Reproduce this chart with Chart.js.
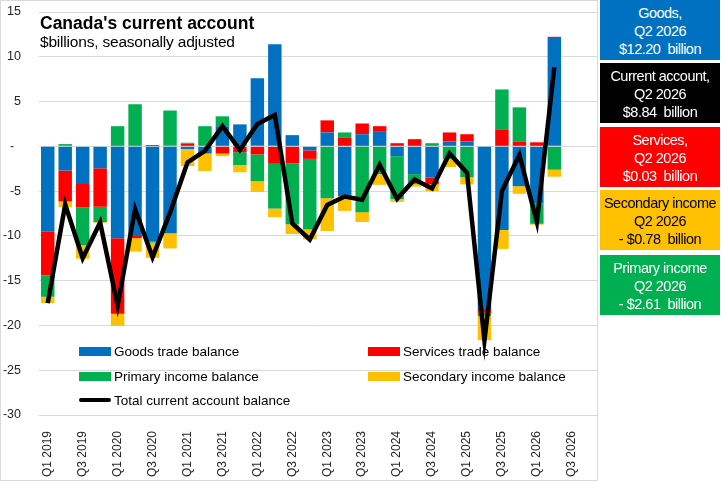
<!DOCTYPE html>
<html>
<head>
<meta charset="utf-8">
<title>Canada's current account</title>
<script src="https://cdn.jsdelivr.net/npm/chart.js@4.4.1/dist/chart.umd.min.js"></script>
<style>
  body { margin: 0; background: #fff; font-family: "Liberation Sans", Arial, sans-serif; }
  #wrap { position: relative; width: 721px; height: 481px; overflow: hidden; }
  #frame { position: absolute; left: 0; top: 0; width: 596px; height: 479px; border: 1px solid #d9d9d9; }
  #chart { position: absolute; left: 0; top: 0; }
  .title { position: absolute; left: 40px; top: 13px; font-weight: bold; font-size: 17.5px; color: #000; }
  .sub { position: absolute; left: 40px; top: 33px; font-size: 15.5px; color: #000; letter-spacing: -0.2px; }
  .box { position: absolute; left: 600px; width: 120px; height: 60px; text-align: center; white-space: nowrap;
         font-size: 14.5px; letter-spacing: -0.5px; line-height: 18px; padding-top: 4px; box-sizing: border-box; }
  .leg { position: absolute; font-size: 13.5px; color: #000; white-space: nowrap; }
  .sw { display: inline-block; width: 32px; height: 9px; margin-right: 3px; vertical-align: 0px; }
</style>
</head>
<body>
<div id="wrap">
  <div id="frame"></div>
  <canvas id="chart" width="721" height="481"></canvas>
  <div class="title">Canada's current account</div>
  <div class="sub">$billions, seasonally adjusted</div>
  <div id="boxes"></div>
  <div id="legend"></div>
</div>
<script>
// quarters, Q1 2019 to Q4 2026 (last two have no data yet)
const quarters = [
  'Q1 2019', 'Q2 2019', 'Q3 2019', 'Q4 2019',
  'Q1 2020', 'Q2 2020', 'Q3 2020', 'Q4 2020',
  'Q1 2021', 'Q2 2021', 'Q3 2021', 'Q4 2021',
  'Q1 2022', 'Q2 2022', 'Q3 2022', 'Q4 2022',
  'Q1 2023', 'Q2 2023', 'Q3 2023', 'Q4 2023',
  'Q1 2024', 'Q2 2024', 'Q3 2024', 'Q4 2024',
  'Q1 2025', 'Q2 2025', 'Q3 2025', 'Q4 2025',
  'Q1 2026', 'Q2 2026', 'Q3 2026', 'Q4 2026'
];

// $ billions
const goods = [-9.5, -2.7, -4.1, -2.45, -10.25, -10.0, -10.6, -9.7, -0.3, -0.8, 2.25, 2.45,
  7.6, 11.4, 1.25, -0.45, 1.55, -5.55, 1.35, 1.7, -1.1, -3.1, -3.5, 0.55,
  0.55, -18.15, -9.35, -4.45, -6.35, 12.2, null, null];
const services = [-4.9, -3.45, -2.7, -4.3, -8.45, -0.25, 0.15, 0.1, 0.3, 0, -0.8, -0.65,
  -0.9, -1.95, -1.9, -0.95, 1.35, 1.0, 1.2, 0.55, 0.35, 0.8, -0.75, 1.0,
  0.8, -0.45, 1.9, 0.5, 0.45, 0.03, null, null];
const primary = [-2.4, 0.25, -4.25, -1.7, 2.25, 4.7, -0.15, 3.9, 0.1, 2.25, 1.1, -1.45,
  -3.0, -5.0, -6.8, -7.9, -5.8, 0.55, -7.35, -3.1, -4.8, -1.1, 0.35, -1.4,
  -3.45, -0.35, 4.45, 3.85, -2.3, -2.61, null, null];
const secondary = [-0.7, -0.65, -1.5, -0.1, -1.35, -1.5, -1.7, -1.7, -1.9, -1.95, -0.3, -0.8,
  -1.2, -0.95, -1.1, -1.1, -3.65, -1.65, -1.1, -1.2, -0.3, -0.3, -0.75, -0.9,
  -0.8, -2.7, -2.1, -0.85, -0.1, -0.78, null, null];
const total = [-17.5, -6.5, -12.5, -8.5, -17.8, -7.0, -12.4, -7.4, -1.8, -0.5, 2.25, -0.4,
  2.5, 3.5, -8.6, -10.4, -6.55, -5.6, -5.95, -2.05, -5.85, -3.7, -4.7, -0.8,
  -2.95, -21.7, -5.0, -0.95, -8.45, 8.84, null, null];

const yTicks = [15, 10, 5, 0, -5, -10, -15, -20, -25, -30];

// callout boxes on the right
const boxTitles = ['Goods,', 'Current account,', 'Services,', 'Secondary income', 'Primary income'];
const boxPeriods = ['Q2 2026', 'Q2 2026', 'Q2 2026', 'Q2 2026', 'Q2 2026'];
const boxValues = ['$12.20\u00a0 billion', '$8.84\u00a0 billion', '$0.03\u00a0 billion', '-\u00a0$0.78\u00a0 billion', '-\u00a0$2.61\u00a0 billion'];

const COLORS = { goods: '#0070C0', services: '#FF0000', primary: '#00B050', secondary: '#FFC000', total: '#000000' };

document.addEventListener('DOMContentLoaded', () => {
  // Boxes
  const boxColors = [COLORS.goods, COLORS.total, COLORS.services, COLORS.secondary, COLORS.primary];
  const boxTops = [0, 63, 127, 190, 255];
  const boxesEl = document.getElementById('boxes');
  boxTitles.forEach((t, i) => {
    const d = document.createElement('div');
    d.className = 'box';
    d.style.top = boxTops[i] + 'px';
    d.style.background = boxColors[i];
    d.style.color = boxColors[i] === COLORS.secondary ? '#000' : '#fff';
    d.innerHTML = t + '<br>' + boxPeriods[i] + '<br>' + boxValues[i];
    boxesEl.appendChild(d);
  });

  const barDefaults = {
    type: 'bar',
    stack: 'ca',
    order: 1,
    barPercentage: 1,
    categoryPercentage: 0.77,
    borderWidth: 0
  };

  const datasets = [
    { ...barDefaults, label: 'Goods trade balance', data: goods, backgroundColor: COLORS.goods },
    { ...barDefaults, label: 'Services trade balance', data: services, backgroundColor: COLORS.services },
    { ...barDefaults, label: 'Primary income balance', data: primary, backgroundColor: COLORS.primary },
    { ...barDefaults, label: 'Secondary income balance', data: secondary, backgroundColor: COLORS.secondary },
    {
      type: 'line',
      label: 'Total current account balance',
      data: total,
      stack: 'total',
      order: 0,
      borderColor: COLORS.total,
      borderWidth: 4.5,
      pointRadius: 0,
      tension: 0,
      spanGaps: false
    }
  ];

  // Legend (placed inside the plot, two columns)
  const legendPos = [[79, 348], [368, 348], [79, 373], [368, 373], [79, 397]];
  const legendEl = document.getElementById('legend');
  datasets.forEach((ds, i) => {
    const d = document.createElement('div');
    d.className = 'leg';
    d.style.left = legendPos[i][0] + 'px';
    d.style.top = (legendPos[i][1] - 4) + 'px';
    const isLine = ds.type === 'line';
    const col = isLine ? ds.borderColor : ds.backgroundColor;
    d.innerHTML = '<span class="sw" style="background:' + col + ';' +
      (isLine ? 'height:4px;border-radius:2px;vertical-align:3px;' : '') + '"></span>' + ds.label;
    legendEl.appendChild(d);
  });

  try {
    const ctx = document.getElementById('chart').getContext('2d');
    new Chart(ctx, {
      data: { labels: quarters, datasets },
      options: {
        responsive: false,
        animation: false,
        layout: { padding: { top: 12, right: 123, left: 0, bottom: 0 } },
        plugins: {
          legend: { display: false },
          tooltip: { enabled: false }
        },
        scales: {
          x: {
            stacked: true,
            grid: { display: false },
            border: { display: false },
            ticks: {
              autoSkip: false,
              maxRotation: 90,
              minRotation: 90,
              padding: 8,
              color: '#262626',
              font: { family: '"Liberation Sans", Arial, sans-serif', size: 12 },
              callback: (v, i) => (i % 2 === 0 ? quarters[i] : '')
            },
            afterFit: scale => {
              scale.height = 66;
              scale.paddingLeft = 0;
              scale.paddingRight = 0;
              scale.paddingTop = 0;
              scale.paddingBottom = 0;
            }
          },
          y: {
            stacked: true,
            min: -30,
            max: 15,
            afterBuildTicks: scale => { scale.ticks = yTicks.map(v => ({ value: v })); },
            grid: { color: '#d9d9d9', lineWidth: 1, drawTicks: false },
            border: { display: false },
            ticks: {
              padding: 18,
              color: '#262626',
              font: { family: '"Liberation Sans", Arial, sans-serif', size: 12.5 },
              callback: v => (v === 0 ? '-\u00a0\u00a0' : v)
            },
            afterFit: scale => {
              scale.width = 39;
              scale.paddingTop = 0;
              scale.paddingBottom = 0;
            }
          }
        }
      }
    });
  } catch (err) {
    console.error('Error rendering chart:', err);
  }
});
</script>
</body>
</html>
